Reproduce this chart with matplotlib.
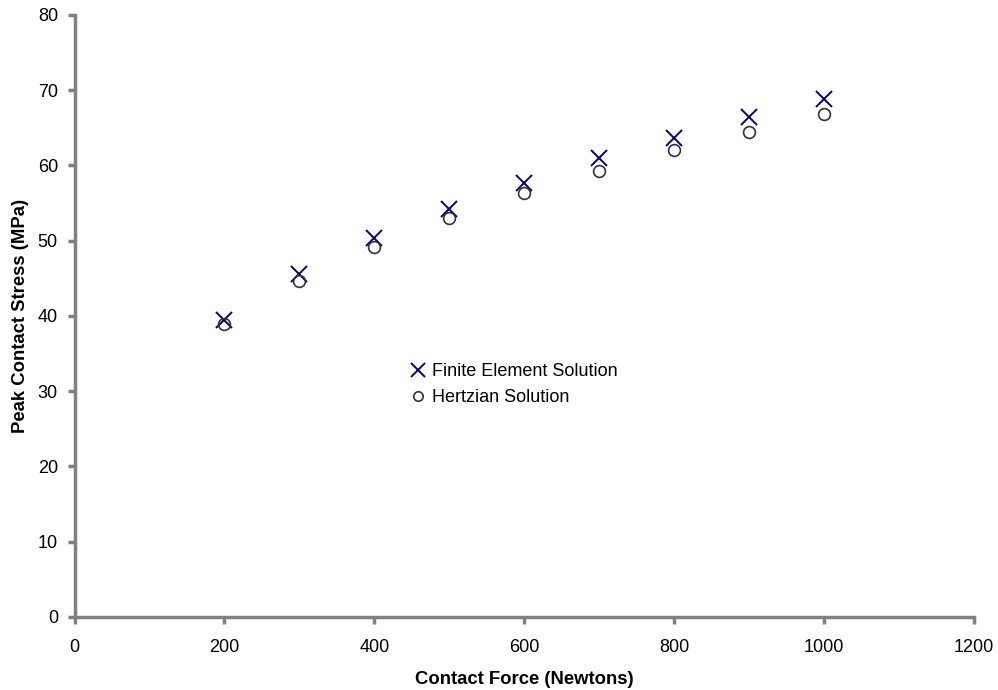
import matplotlib
matplotlib.use('Agg')
import matplotlib.pyplot as plt

plt.rcParams['font.family'] = ['Liberation Sans', 'DejaVu Sans']

# 接触力 (N)
force = [200, 300, 400, 500, 600, 700, 800, 900, 1000]
# 有限元解
fe_stress = [39.5, 45.6, 50.3, 54.2, 57.7, 61.0, 63.7, 66.4, 68.9]
# 赫兹解
hertz_stress = [39.0, 44.7, 49.2, 53.0, 56.4, 59.3, 62.0, 64.5, 66.8]

fig = plt.figure(figsize=(9.98, 6.9), dpi=100)
ax = fig.add_axes([0.0747, 0.1058, 0.9013, 0.8725])

ax.plot(force, fe_stress, linestyle='none', marker='x', markersize=12,
        markeredgewidth=1.4, color='#000080', label='Finite Element Solution')
ax.plot(force, hertz_stress, linestyle='none', marker='o', markersize=8.5,
        markerfacecolor='none', markeredgewidth=1.2, markeredgecolor='#333333',
        label='Hertzian Solution')

ax.set_xlim(0, 1200)
ax.set_ylim(0, 80)
ax.set_xticks(range(0, 1201, 200))
ax.set_yticks(range(0, 81, 10))

for side in ['top', 'right']:
    ax.spines[side].set_visible(False)
for side in ['left', 'bottom']:
    ax.spines[side].set_color('#808080')
    ax.spines[side].set_linewidth(2.5)
ax.tick_params(axis='both', direction='out', length=5, width=2.5, color='#808080',
               labelsize=13, labelcolor='black')
ax.tick_params(axis='x', pad=11)
ax.tick_params(axis='y', pad=7)

ax.set_xlabel('Contact Force (Newtons)', fontsize=13.3, fontweight='bold', labelpad=10.5)
ax.set_ylabel('Peak Contact Stress (MPa)', fontsize=13.3, fontweight='bold', labelpad=6)

ax.legend(loc='upper left', bbox_to_anchor=(0.363, 0.437), frameon=False,
          fontsize=13, handlelength=0.9, handletextpad=0.3, labelspacing=0.5,
          markerscale=0.8, borderpad=0)

plt.savefig('out.png', dpi=100)
plt.close()
